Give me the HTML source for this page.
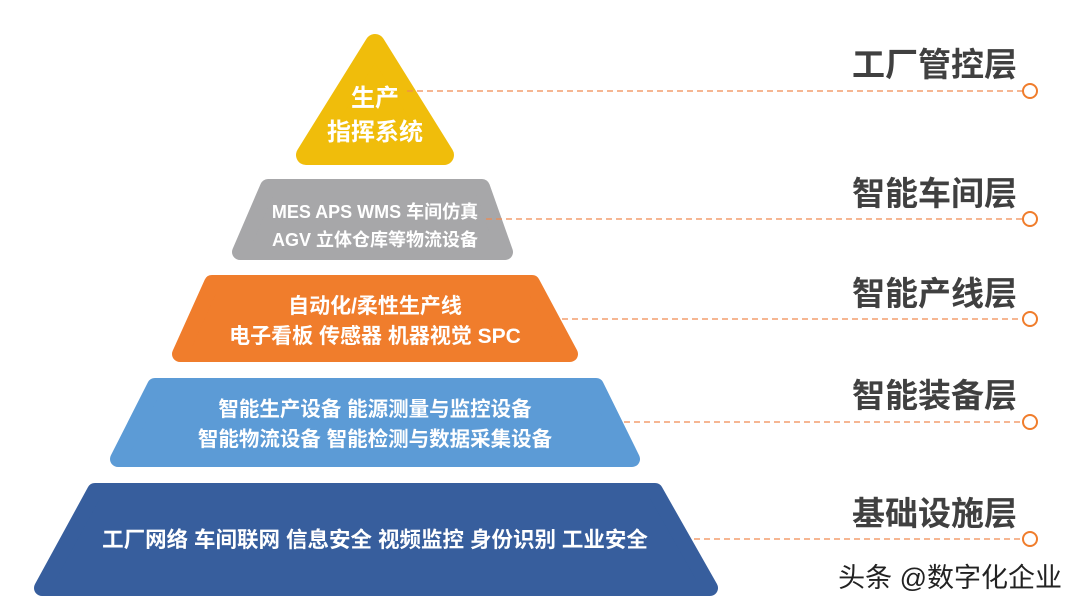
<!DOCTYPE html>
<html><head><meta charset="utf-8"><style>
html,body{margin:0;padding:0;background:#fff;}
svg{display:block;}
.t{font-family:"Liberation Sans","Noto Sans CJK SC",sans-serif;fill:#fff;font-weight:bold;text-anchor:middle;}
.l{font-family:"Liberation Sans","Noto Sans CJK SC",sans-serif;fill:#404040;font-weight:bold;font-size:33px;text-anchor:end;}
</style></head><body>
<svg width="1080" height="609" viewBox="0 0 1080 609">
<g stroke-linejoin="round" stroke-width="16">
<polygon points="375,44 306,155 444,155" fill="#F0BD0B" stroke="#F0BD0B" stroke-width="20"/>
<polygon points="268,187 482,187 505,252 240,252" fill="#A7A7A9" stroke="#A7A7A9"/>
<polygon points="212,283 532,283 570,354 180,354" fill="#F07D2C" stroke="#F07D2C"/>
<polygon points="155,386 596,386 632,459 118,459" fill="#5C9BD6" stroke="#5C9BD6"/>
<polygon points="95,491 655,491 710,588 42,588" fill="#375E9D" stroke="#375E9D"/>
</g>
<text class="t" x="375" y="106" font-size="24">生产</text>
<text class="t" x="375" y="140" font-size="24">指挥系统</text>
<text class="t" x="375" y="218" font-size="18" font-weight="normal">MES APS WMS 车间仿真</text>
<text class="t" x="375" y="246" font-size="18" font-weight="normal">AGV 立体仓库等物流设备</text>
<text class="t" x="375" y="313" font-size="21">自动化/柔性生产线</text>
<text class="t" x="375" y="343" font-size="21">电子看板 传感器 机器视觉 SPC</text>
<text class="t" x="375" y="416" font-size="20.5">智能生产设备 能源测量与监控设备</text>
<text class="t" x="375" y="446" font-size="20.5">智能物流设备 智能检测与数据采集设备</text>
<text class="t" x="375" y="547" font-size="21.5">工厂网络 车间联网 信息安全 视频监控 身份识别 工业安全</text>
<g stroke="#F08A50" stroke-width="1.3" stroke-dasharray="6,4" fill="none">
<line x1="407" y1="91" x2="1023" y2="91"/>
<line x1="486" y1="219" x2="1023" y2="219"/>
<line x1="562" y1="319" x2="1023" y2="319"/>
<line x1="624" y1="422" x2="1023" y2="422"/>
<line x1="694" y1="539" x2="1023" y2="539"/>
</g>
<g stroke="#F07D2C" stroke-width="2" fill="#fff">
<circle cx="1030" cy="91" r="7"/>
<circle cx="1030" cy="219" r="7"/>
<circle cx="1030" cy="319" r="7"/>
<circle cx="1030" cy="422" r="7"/>
<circle cx="1030" cy="539" r="7"/>
</g>
<text class="l" x="1017" y="76">工厂管控层</text>
<text class="l" x="1017" y="205">智能车间层</text>
<text class="l" x="1017" y="305">智能产线层</text>
<text class="l" x="1017" y="407">智能装备层</text>
<text class="l" x="1017" y="525">基础设施层</text>
<text x="1062" y="587" font-size="27" text-anchor="end" fill="#222" font-family="'Liberation Sans','Noto Sans CJK SC',sans-serif">头条 @数字化企业</text>
</svg>
</body></html>
